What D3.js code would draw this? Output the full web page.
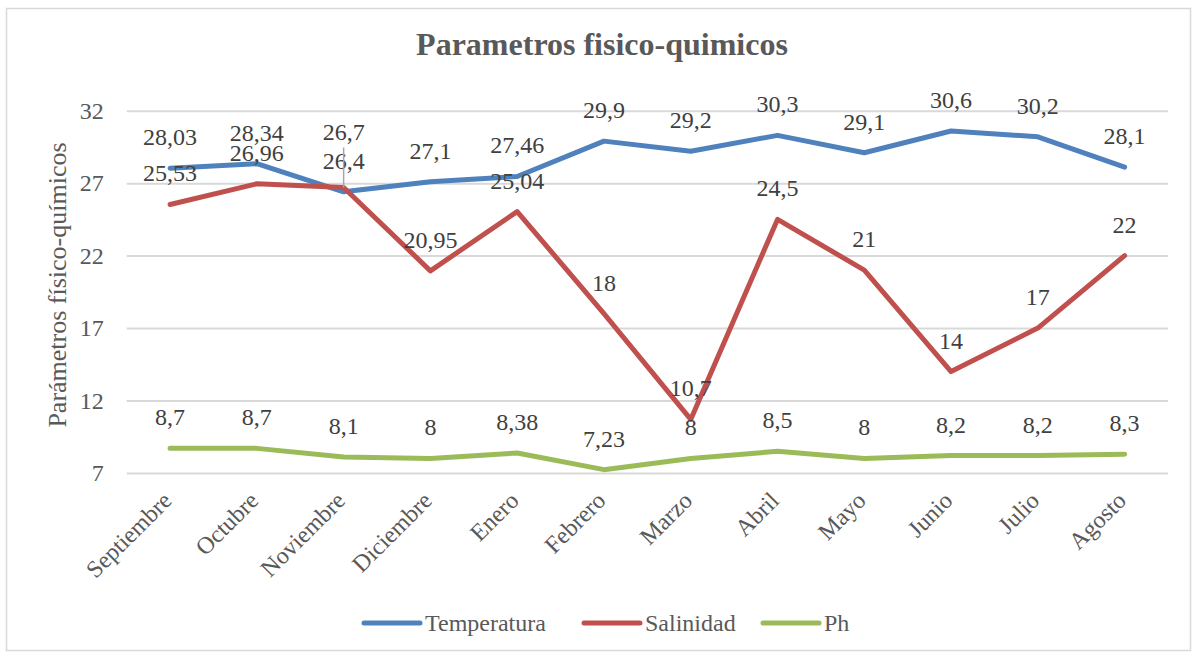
<!DOCTYPE html>
<html>
<head>
<meta charset="utf-8">
<script src="https://cdn.jsdelivr.net/npm/d3@7"></script>
<style>
    body { margin: 0; background: #fff; }
</style>
</head>
<body>
<svg id="chart"></svg>
<script>
//data
var months = ['Septiembre', 'Octubre', 'Noviembre', 'Diciembre', 'Enero', 'Febrero',
              'Marzo', 'Abril', 'Mayo', 'Junio', 'Julio', 'Agosto'];
var temperatura = [28.03, 28.34, 26.4, 27.1, 27.46, 29.9, 29.2, 30.3, 29.1, 30.6, 30.2, 28.1];
var salinidad = [25.53, 26.96, 26.7, 20.95, 25.04, 18, 10.7, 24.5, 21, 14, 17, 22];
var ph = [8.7, 8.7, 8.1, 8, 8.38, 7.23, 8, 8.5, 8, 8.2, 8.2, 8.3];
var yTicks = [7, 12, 17, 22, 27, 32];

var series = [
    {name: 'Temperatura', values: temperatura, color: '#4F81BD'},
    {name: 'Salinidad', values: salinidad, color: '#C0504D'},
    {name: 'Ph', values: ph, color: '#9BBB59'}
];

var serif = '"Liberation Serif", "Times New Roman", serif';

//chart parameters
var svg = d3.select('#chart')
    .attr('width', 1197)
    .attr('height', 657);

var margin = {top: 110.7, right: 29, bottom: 184, left: 126.7},
    width = 1197 - margin.left - margin.right,
    height = 657 - margin.top - margin.bottom;

//outer border
svg.append('rect')
    .attr('x', 6.5).attr('y', 8.5)
    .attr('width', 1184).attr('height', 642)
    .attr('fill', 'none')
    .attr('stroke', '#D9D9D9')
    .attr('stroke-width', 1.5);

//scales
var xScale = d3.scaleBand().domain(months).range([0, width]),
    yScale = d3.scaleLinear().domain([7, 32]).range([height, 0]);

var xPos = d => xScale(d) + xScale.bandwidth() / 2;

var canvas = svg.append('g')
    .attr('transform', 'translate(' + margin.left + ',' + margin.top + ')');

//title
svg.append('text')
    .attr('x', 602).attr('y', 55)
    .attr('text-anchor', 'middle')
    .style('font-family', serif)
    .style('font-size', '32px')
    .style('font-weight', 'bold')
    .style('fill', '#595959')
    .text('Parametros fisico-quimicos');

//y axis title
svg.append('text')
    .attr('transform', 'translate(66,' + 285 + ') rotate(-90)')
    .attr('text-anchor', 'middle')
    .style('font-family', serif)
    .style('font-size', '26px')
    .style('fill', '#595959')
    .text('Parámetros físico-químicos');

//gridlines
canvas.append('g')
    .call(d3.axisLeft(yScale).tickValues(yTicks).tickSize(-width).tickFormat(''))
    .call(g => g.select('.domain').remove())
    .selectAll('line')
    .attr('stroke', '#D9D9D9')
    .attr('stroke-width', 2);

//y axis labels
canvas.append('g')
    .call(d3.axisLeft(yScale).tickValues(yTicks).tickSize(0).tickPadding(23))
    .call(g => g.select('.domain').remove())
    .selectAll('text')
    .style('font-size', '24px')
    .style('font-family', serif)
    .style('fill', '#595959');

//x axis labels
canvas.append('g')
    .attr('transform', 'translate(0,' + height + ')')
    .call(d3.axisBottom(xScale).tickSize(0).tickPadding(0))
    .call(g => g.select('.domain').remove())
    .selectAll('text')
    .style('font-size', '24px')
    .style('font-family', serif)
    .style('fill', '#595959')
    .attr('text-anchor', 'end')
    .attr('y', 0)
    .attr('dy', 0)
    .attr('transform', 'translate(3,29) rotate(-45)');

//lines
var line = d3.line()
    .x((d, i) => xPos(months[i]))
    .y(d => yScale(d));

canvas.selectAll('.series')
    .data(series)
    .enter().append('path')
    .attr('class', 'series')
    .attr('d', d => line(d.values))
    .attr('fill', 'none')
    .attr('stroke', d => d.color)
    .attr('stroke-width', 5)
    .attr('stroke-linecap', 'round')
    .attr('stroke-linejoin', 'round');

//data labels
var fmt = v => String(v).replace('.', ',');
var labelShift = {'Salinidad-Noviembre': -24};

series.forEach(s => {
    s.values.forEach((v, i) => {
        var key = s.name + '-' + months[i];
        var shift = labelShift[key] || 0;
        var px = xPos(months[i]), py = yScale(v);
        if (shift) {
            //leader line for moved label
            canvas.append('line')
                .attr('x1', px).attr('x2', px)
                .attr('y1', py - 40).attr('y2', py)
                .attr('stroke', '#A6A6A6')
                .attr('stroke-width', 1.5);
        }
        canvas.append('text')
            .attr('x', px)
            .attr('y', py - 23 + shift)
            .attr('text-anchor', 'middle')
            .style('font-family', serif)
            .style('font-size', '24px')
            .style('fill', '#404040')
            .text(fmt(v));
    });
});

//legend
var legendX = [364, 584, 763];
var legend = svg.append('g');
series.forEach((s, i) => {
    legend.append('line')
        .attr('x1', legendX[i]).attr('x2', legendX[i] + 56)
        .attr('y1', 623).attr('y2', 623)
        .attr('stroke', s.color)
        .attr('stroke-width', 5)
        .attr('stroke-linecap', 'round');
    legend.append('text')
        .attr('x', legendX[i] + 61)
        .attr('y', 631)
        .style('font-family', serif)
        .style('font-size', '24px')
        .style('fill', '#595959')
        .text(s.name);
});
</script>
</body>
</html>
